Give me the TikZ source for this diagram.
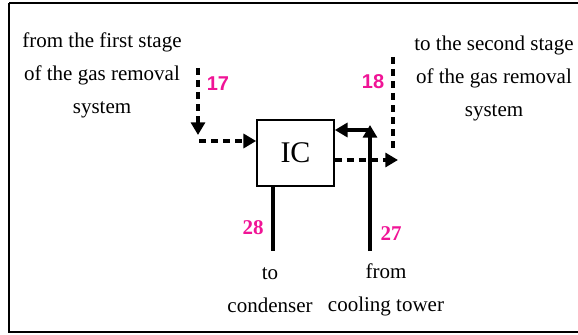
\documentclass[tikz,border=0pt]{standalone}
\usepackage{fontspec}
\setmainfont{Liberation Serif}
\newfontfamily\numsans{Liberation Sans}
\usetikzlibrary{arrows.meta}
\definecolor{numpink}{RGB}{240,20,150}
\begin{document}
\begin{tikzpicture}[x=0.75pt,y=-0.75pt,
  lbl/.style={font=\fontsize{15.75}{24.75}\selectfont, align=center, inner sep=0pt},
  numA/.style={font=\numsans\bfseries\fontsize{15}{18}\selectfont, text=numpink, inner sep=0pt},
  numB/.style={font=\bfseries\fontsize{15.75}{18}\selectfont, text=numpink, inner sep=0pt},
  dashline/.style={line width=2.8pt, dash pattern=on 5.5pt off 3.5pt},
  solidline/.style={line width=2.8pt},
  tip/.style={-{Triangle[length=9.5pt,width=10.5pt]}},
  icbox/.style={draw, line width=1.3pt, minimum width=57.75pt, minimum height=49.5pt, inner sep=0pt, font=\fontsize{22.5}{24}\selectfont}
]
\useasboundingbox (0,0) rectangle (578,335);
% frame (right edge lies outside the picture)
\draw[line width=2pt] (9,3) -- (600,3);
\draw[line width=2pt] (600,332) -- (9,332) -- (9,3);

% box
\node[icbox] (ic) at (295.5,153) {IC};

% texts
\node[lbl] (tfirst) at (102,75) {from the first stage\\of the gas removal\\system};
\node[lbl] (tsecond) at (494,78) {to the second stage\\of the gas removal\\system};
\node[lbl] (tcond) at (270,290) {to\\condenser};
\node[lbl] (tcool) at (386,290) {from\\cooling tower};

% numbers
\node[numA] (n17) at (218,84) {17};
\node[numA] (n18) at (373,82) {18};
\node[numB] (n28) at (253,228) {28};
\node[numB] (n27) at (391,234) {27};

% coordinates
\coordinate (a17top) at (198,68);
\coordinate (a17tip) at (198,135);
\coordinate (a17corner) at (199,141);
\coordinate (a18top) at (393,57);
\coordinate (a18bot) at (393,151);
\coordinate (a18tip) at (398,160);
\coordinate (c28bot) at (273,251);
\coordinate (c27bot) at (370,251);
\coordinate (c27tip) at (370,125);
\coordinate (c27corner) at (370,130);

% stream 17 (dashed, into IC)
\draw[dashline,tip] (a17top) -- (a17tip);
\draw[dashline,tip] (a17corner) -- (a17corner -| ic.west);

% stream 18 (dashed, out of IC)
\draw[dashline,tip] (ic.east |- a18tip) -- (a18tip);
\draw[dashline] (a18top) -- (a18bot);

% stream 28 (to condenser)
\draw[solidline] (ic.south -| c28bot) -- (c28bot);

% stream 27 (from cooling tower)
\draw[solidline,tip] (c27bot) -- (c27tip);
\draw[solidline,tip] (c27corner) -- (c27corner -| ic.east);
\end{tikzpicture}
\end{document}
